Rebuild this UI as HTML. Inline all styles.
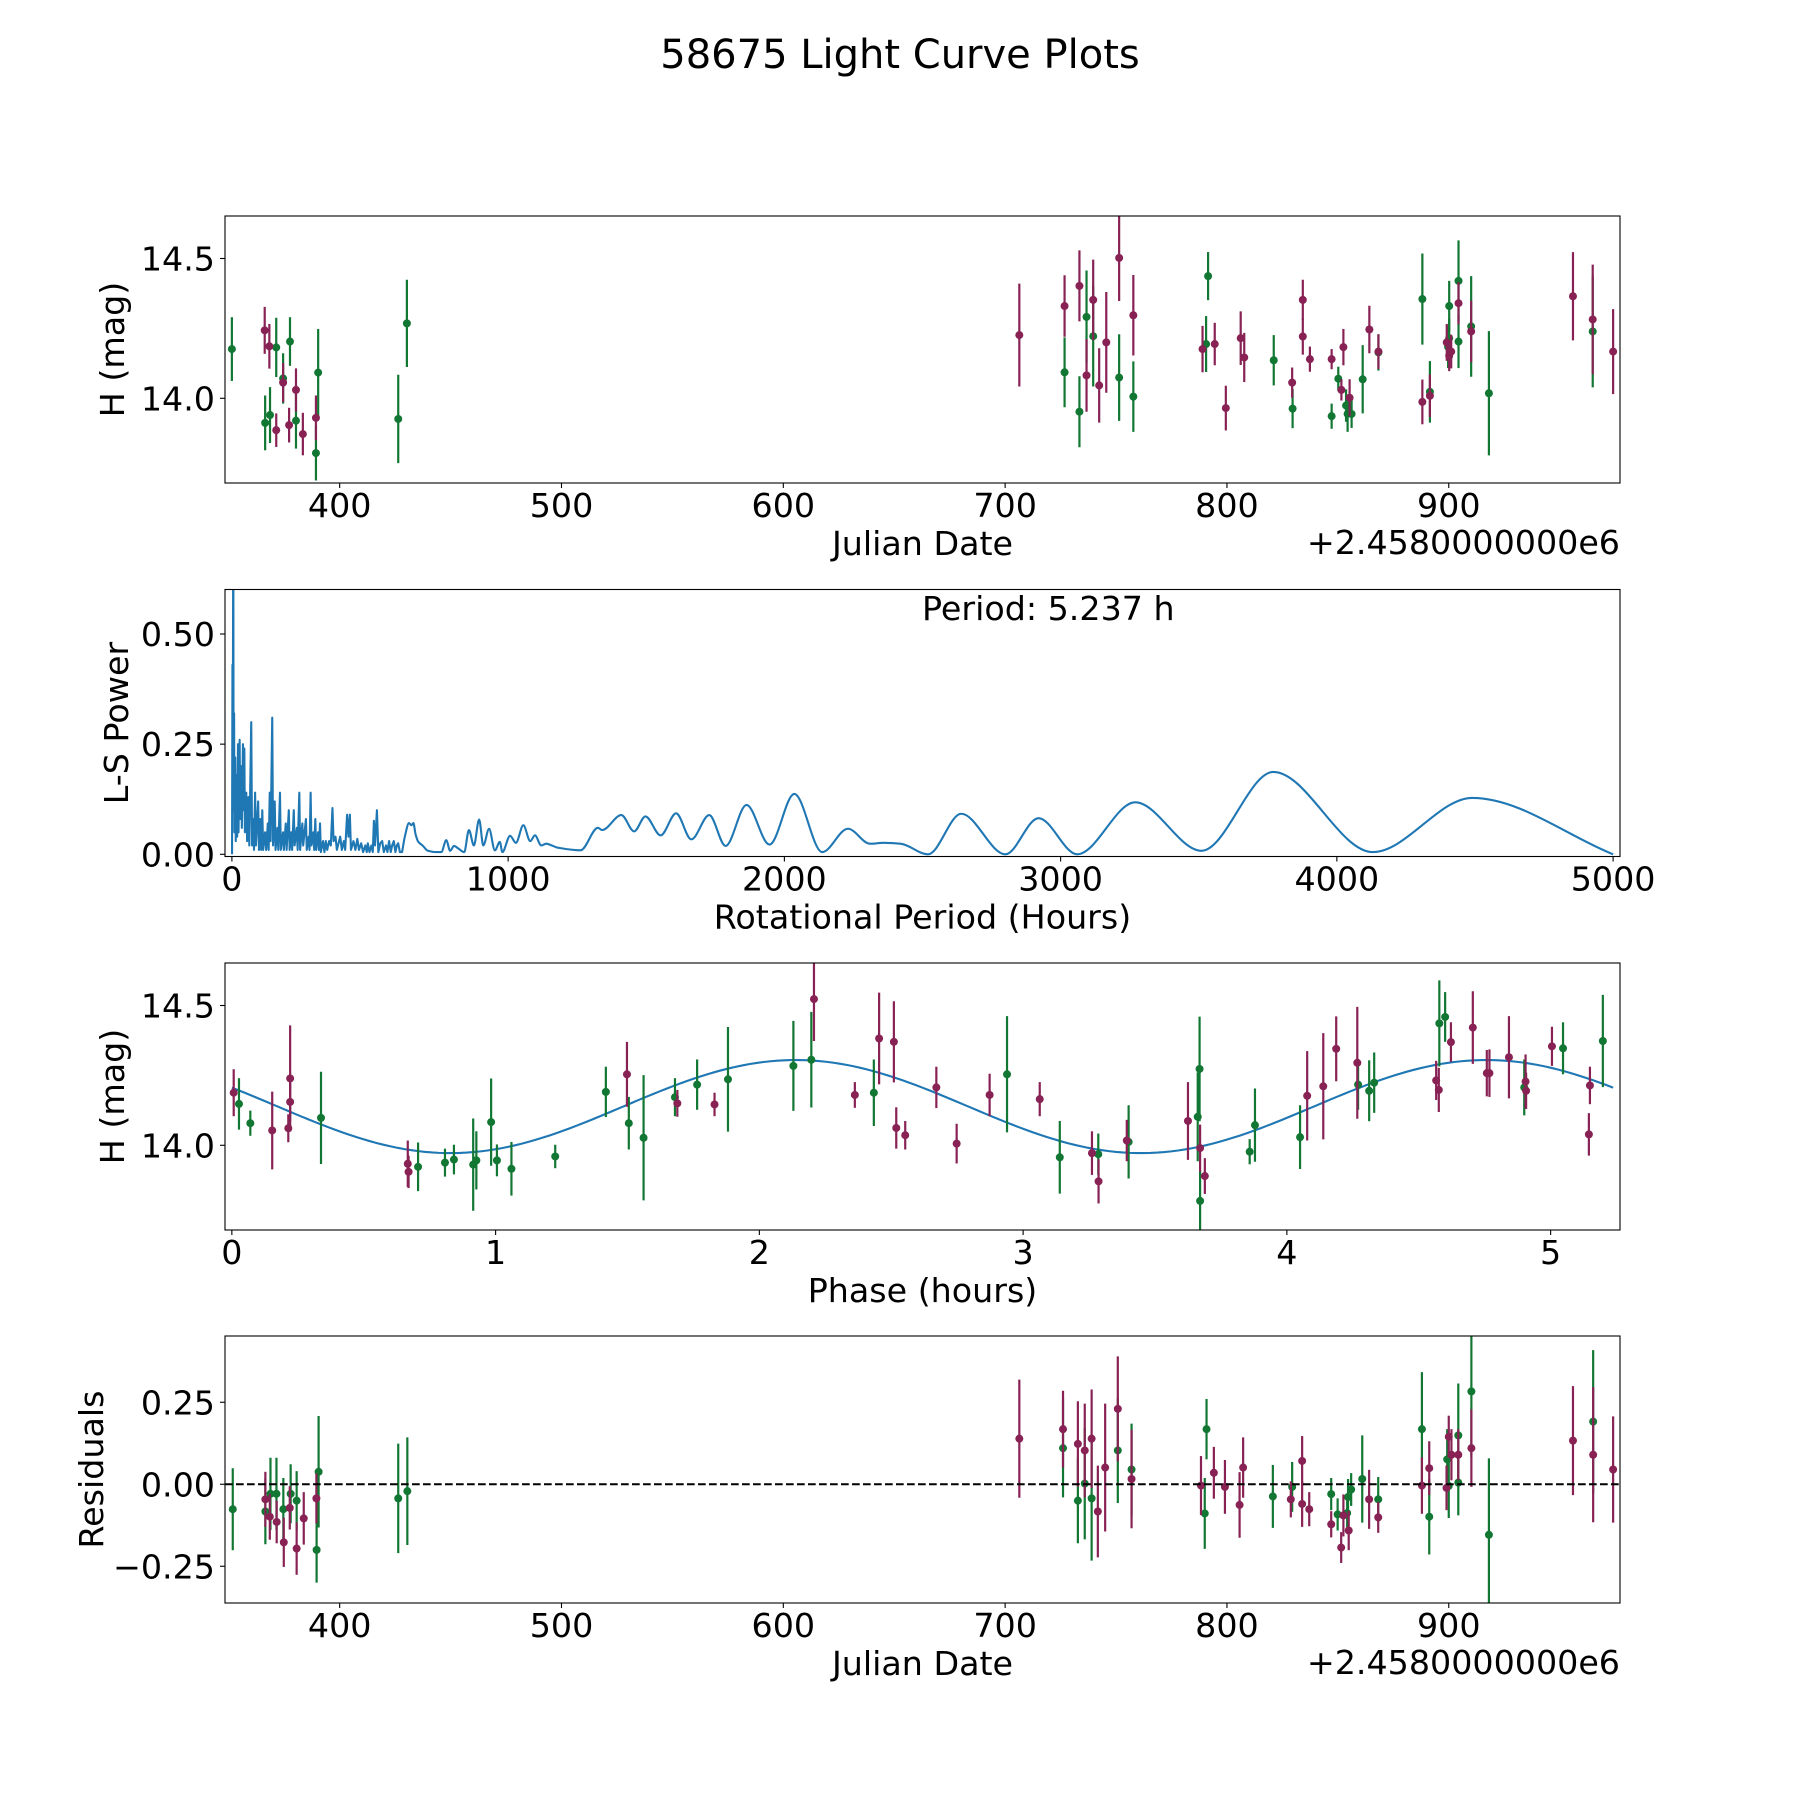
<!DOCTYPE html>
<html><head><meta charset="utf-8"><title>58675 Light Curve Plots</title>
<style>
html,body{margin:0;padding:0;background:#fff;}
svg{display:block;font-family:"DejaVu Sans","Liberation Sans",sans-serif;}
</style></head>
<body>
<svg id="fig" width="1800" height="1800" viewBox="0 0 1800 1800">
<rect x="0" y="0" width="1800" height="1800" fill="#fff"/>
<text x="900" y="68" font-size="40" text-anchor="middle">58675 Light Curve Plots</text>
<g id="p1"></g>
<g id="p2"></g>
<g id="p3"></g>
<g id="p4"></g>
</svg>
<script>
// ---------- data: panel 1 (light curve) ----------
const lcGDate=[351.4,366.4,368.6,371.4,374.5,377.6,380.3,389.3,390.3,426.4,430.3,726.8,733.5,736.7,739.7,751.4,757.8,790.6,791.5,821.1,829.6,847.2,850.2,853.7,854.4,856.2,861.2,868.3,888.1,891.5,900.2,899.7,900.2,904.4,904.4,910.1,918.1,964.9];
const lcGMag=[14.176,13.912,13.94,14.182,14.071,14.203,13.92,13.804,14.092,13.926,14.268,14.093,13.952,14.291,14.222,14.074,14.006,14.194,14.437,14.136,13.963,13.936,14.07,13.974,13.944,13.944,14.068,14.164,14.355,14.023,14.33,14.184,14.215,14.42,14.203,14.257,14.018,14.239];
const lcGErr=[0.114,0.098,0.1,0.106,0.09,0.087,0.1,0.098,0.156,0.158,0.156,0.125,0.127,0.166,0.18,0.155,0.126,0.1,0.086,0.09,0.07,0.045,0.043,0.058,0.064,0.05,0.122,0.065,0.163,0.11,0.09,0.076,0.07,0.145,0.095,0.18,0.222,0.2];
const lcRDate=[366.2,368.3,371.4,374.5,377.2,380.3,383.4,389.3,706.4,726.8,733.5,736.7,739.7,742.4,745.6,751.4,757.8,789.0,794.5,799.5,806.2,807.8,829.4,834.2,834.2,837.4,847.2,851.6,852.5,855.3,864.2,868.3,888.1,891.5,899.1,900.2,901.1,904.4,910.1,956.0,964.9,974.1];
const lcRMag=[14.243,14.186,13.886,14.056,13.904,14.03,13.872,13.93,14.226,14.33,14.402,14.082,14.352,14.046,14.2,14.502,14.297,14.176,14.194,13.965,14.215,14.146,14.056,14.352,14.221,14.14,14.14,14.03,14.183,14.002,14.246,14.167,13.987,14.009,14.2,14.152,14.167,14.34,14.239,14.365,14.282,14.167];
const lcRErr=[0.084,0.08,0.06,0.07,0.062,0.077,0.076,0.08,0.184,0.11,0.127,0.13,0.144,0.133,0.18,0.154,0.144,0.083,0.076,0.08,0.096,0.088,0.054,0.072,0.065,0.045,0.036,0.038,0.065,0.066,0.085,0.062,0.08,0.076,0.066,0.055,0.06,0.076,0.11,0.158,0.196,0.152];
// ---------- data: panel 2 (periodogram) ----------
const lsPeriod=[0.5,2,3,4.5,5.237,6,8,9,12,14,17,19,22,24,28,30,34,36,40,42,45,47,52,55,60,63,70,73,78,80,84,87,95,98,103,106,110,113,120,124,130,133,137,140,146,149,155,158,165,168,174,177,185,188,195,198,206,209,215,218,224,227,235,238,244,247,255,258,268,271,278,281,285,288,295,298,302,305,312,315,319,322,330,335,340,345,352,358,364,368,375,380,388,392,398,405,410,417,422,427,431,440,447,454,460,468,475,483,488,492,498,505,510,514,518,525,530,537,544,550,558,563,569,575,580,586,592,597,602,608];
const lsPower=[0.0,0.43,0.1,0.65,0.65,0.15,0.32,0.05,0.22,0.03,0.18,0.04,0.25,0.05,0.26,0.08,0.2,0.06,0.25,0.1,0.24,0.05,0.14,0.03,0.13,0.02,0.30,0.02,0.08,0.01,0.14,0.02,0.12,0.01,0.08,0.01,0.1,0.01,0.05,0.01,0.07,0.01,0.14,0.03,0.31,0.02,0.12,0.01,0.06,0.01,0.14,0.01,0.05,0.01,0.07,0.01,0.1,0.01,0.05,0.01,0.1,0.02,0.06,0.01,0.14,0.01,0.07,0.02,0.08,0.01,0.04,0.01,0.14,0.02,0.05,0.01,0.08,0.01,0.05,0.01,0.07,0.005,0.03,0.005,0.03,0.01,0.03,0.02,0.105,0.03,0.04,0.01,0.03,0.04,0.01,0.03,0.01,0.09,0.04,0.09,0.01,0.03,0.01,0.035,0.01,0.025,0.005,0.02,0.005,0.025,0.005,0.02,0.005,0.076,0.02,0.1,0.005,0.025,0.03,0.005,0.02,0.005,0.03,0.005,0.02,0.03,0.005,0.02,0.025,0.005];
const lsSmoothPeriod=[616,627,641,650,657,665,675,690,710,737,758,776,790,804,820,841,858,876,895,910,931,952,970,979,1007,1028,1055,1080,1097,1120,1138,1150,1180,1262,1325,1340,1410,1456,1497,1552,1608,1663,1728,1787,1863,1946,2036,2137,2230,2310,2360,2420,2520,2640,2800,2920,3060,3270,3510,3770,4130,4490,5000];
const lsSmoothPower=[0.005,0.043,0.071,0.066,0.071,0.045,0.028,0.02,0.008,0.005,0.005,0.032,0.008,0.019,0.013,0.005,0.055,0.02,0.079,0.02,0.058,0.009,0.028,0.005,0.042,0.026,0.066,0.03,0.043,0.02,0.024,0.022,0.015,0.009,0.06,0.055,0.089,0.052,0.086,0.043,0.093,0.034,0.089,0.019,0.112,0.022,0.137,0.005,0.058,0.024,0.026,0.024,0.0,0.092,0.0,0.082,0.0,0.118,0.008,0.187,0.005,0.128,0.0];
const periodLabel="Period: 5.237 h";
// ---------- data: panel 3 (phase folded) ----------
const phGPhase=[0.027,0.07,0.338,0.706,0.808,0.842,0.915,0.927,0.983,1.005,1.06,1.226,1.418,1.505,1.561,1.68,1.764,1.881,2.129,2.197,2.434,2.939,3.139,3.285,3.4,3.662,3.669,3.671,3.859,3.879,4.05,4.27,4.312,4.331,4.578,4.6,4.9,5.047,5.198];
const phGMag=[14.148,14.079,14.098,13.923,13.938,13.949,13.931,13.946,14.083,13.946,13.916,13.96,14.191,14.079,14.027,14.172,14.217,14.236,14.284,14.306,14.188,14.254,13.957,13.968,14.012,14.102,14.273,13.801,13.977,14.072,14.029,14.217,14.195,14.224,14.436,14.459,14.207,14.347,14.373];
const phGErr=[0.092,0.045,0.165,0.087,0.05,0.053,0.165,0.104,0.156,0.057,0.096,0.042,0.09,0.094,0.224,0.068,0.09,0.187,0.161,0.171,0.119,0.208,0.13,0.074,0.131,0.159,0.187,0.107,0.045,0.131,0.114,0.09,0.109,0.108,0.154,0.089,0.1,0.093,0.165];
const phRPhase=[0.007,0.153,0.214,0.221,0.221,0.667,0.67,1.498,1.689,1.83,2.207,2.362,2.454,2.51,2.519,2.553,2.671,2.748,2.873,3.063,3.261,3.286,3.393,3.625,3.671,3.689,4.077,4.138,4.187,4.267,4.566,4.576,4.622,4.705,4.758,4.768,4.842,4.905,4.907,5.005,5.149,5.145];
const phRMag=[14.188,14.053,14.061,14.239,14.155,13.934,13.905,14.254,14.15,14.146,14.523,14.18,14.382,14.37,14.062,14.036,14.207,14.006,14.18,14.165,13.972,13.871,14.017,14.087,13.99,13.89,14.177,14.211,14.345,14.295,14.232,14.198,14.369,14.421,14.258,14.258,14.315,14.228,14.195,14.354,14.214,14.039];
const phRErr=[0.084,0.139,0.05,0.19,0.07,0.083,0.058,0.116,0.048,0.042,0.15,0.046,0.164,0.145,0.074,0.051,0.074,0.071,0.076,0.061,0.078,0.079,0.074,0.139,0.084,0.064,0.16,0.19,0.116,0.2,0.07,0.079,0.071,0.13,0.083,0.085,0.147,0.097,0.065,0.07,0.067,0.076];
// fit parameters of the sinusoidal model (mean, amplitude, phase of max, model period)
const fitMean=[14.1385];
const fitAmp=[0.1665];
const fitPeak=[2.138];
const fitPeriod=[2.6185];
const fitRange=[0,5.237];
// ---------- data: panel 4 (residuals) ----------
const reGDate=[351.8,366.5,368.8,371.5,374.6,377.9,380.6,389.6,390.5,426.4,430.5,726.1,732.8,735.9,739.0,750.8,757.0,790.0,790.8,820.7,829.4,847.0,849.9,854.2,854.6,856.0,861.0,868.2,887.9,891.2,899.3,900.0,904.3,904.3,910.2,918.1,965.1];
const reGRes=[-0.076,-0.083,-0.029,-0.029,-0.076,-0.029,-0.05,-0.2,0.038,-0.043,-0.021,0.11,-0.05,0.002,-0.043,0.103,0.045,-0.089,0.168,-0.037,-0.008,-0.03,-0.092,-0.088,-0.039,-0.016,0.016,-0.046,0.168,-0.099,0.076,-0.005,0.149,0.005,0.283,-0.154,0.191];
const reGErr=[0.125,0.1,0.11,0.11,0.095,0.09,0.09,0.1,0.17,0.167,0.164,0.15,0.13,0.17,0.19,0.16,0.14,0.108,0.092,0.096,0.076,0.049,0.049,0.06,0.055,0.05,0.133,0.068,0.174,0.115,0.092,0.098,0.158,0.1,0.2,0.233,0.218];
const reRDate=[366.5,368.5,371.6,374.8,377.5,380.6,383.8,389.5,706.4,726.1,732.8,735.9,739.0,741.8,745.1,750.8,757.0,788.3,794.1,799.1,805.7,807.3,828.8,833.9,833.9,837.1,847.0,851.5,852.5,854.9,864.1,868.2,887.9,891.2,899.0,900.0,901.2,904.3,910.2,956.0,965.1,974.1];
const reRRes=[-0.046,-0.099,-0.115,-0.177,-0.072,-0.196,-0.104,-0.043,0.139,0.168,0.123,0.103,0.139,-0.083,0.051,0.23,0.016,-0.004,0.035,-0.008,-0.063,0.051,-0.046,0.071,-0.06,-0.076,-0.122,-0.193,-0.095,-0.141,-0.046,-0.101,-0.004,0.049,-0.011,0.145,0.09,0.09,0.11,0.133,0.09,0.045];
const reRErr=[0.084,0.07,0.065,0.075,0.066,0.08,0.08,0.076,0.18,0.117,0.13,0.143,0.15,0.14,0.195,0.16,0.15,0.09,0.079,0.082,0.1,0.092,0.055,0.076,0.07,0.052,0.04,0.047,0.064,0.06,0.09,0.047,0.086,0.082,0.068,0.064,0.078,0.078,0.118,0.166,0.206,0.162];
// ---------- ticks ----------
const dateTicks=[400,500,600,700,800,900];
const magTicks=[14.0,14.5];
const magTickLabels=["14.0","14.5"];
const periodTicks=[0,1000,2000,3000,4000,5000];
const powerTicks=[0,0.25,0.5];
const powerTickLabels=["0.00","0.25","0.50"];
const phaseTicks=[0,1,2,3,4,5];
const resTicks=[-0.25,0,0.25];
const resTickLabels=["\u22120.25","0.00","0.25"];

const GREEN="#117733", MAROON="#882255", BLUE="#1f77b4";
const PH=267;
const svg=document.getElementById('fig');
const SNS=svg.namespaceURI;
function el(tag,parent){const e=document.createElementNS(SNS,tag);parent.appendChild(e);return e;}

function makeAxes(gid,y0,xlim,ylim){
  const g=document.getElementById(gid);
  const ax={g:g,x0:225,y0:y0,w:1395,h:PH,xlim:xlim,ylim:ylim};
  ax.sx=v=>ax.x0+(v-xlim[0])/(xlim[1]-xlim[0])*ax.w;
  ax.sy=v=>ax.y0+ax.h-(v-ylim[0])/(ylim[1]-ylim[0])*ax.h;
  const cp=el('clipPath',g);cp.setAttribute('id','clip-'+gid);
  
  
  const cr=el('rect',cp);cr.setAttribute('x',ax.x0);cr.setAttribute('y',ax.y0);cr.setAttribute('width',ax.w);cr.setAttribute('height',ax.h);
  
  
  const pg=el('g',g);pg.setAttribute('clip-path','url(#clip-'+gid+')');
  
  
  ax.pg=pg;
  return ax;
}
function frame(ax){
  const r=el('rect',ax.g);r.setAttribute('x',ax.x0);r.setAttribute('y',ax.y0);r.setAttribute('width',ax.w);r.setAttribute('height',ax.h);
  r.setAttribute('fill','none');r.setAttribute('stroke','#000');r.setAttribute('stroke-width','1.1');
  
  
}
function xTicks(ax,vals,labels){
  const yb=ax.y0+ax.h;
  vals.forEach((v,i)=>{
    const x=ax.sx(v);
    const t=el('line',ax.g);t.setAttribute('x1',x);t.setAttribute('x2',x);t.setAttribute('y1',yb);t.setAttribute('y2',yb+5);
    t.setAttribute('stroke','#000');t.setAttribute('stroke-width','1.1');
    
    
    const tx=el('text',ax.g);tx.setAttribute('x',x);tx.setAttribute('y',yb+34);tx.setAttribute('font-size','33.3');tx.setAttribute('text-anchor','middle');
    tx.textContent=labels?labels[i]:String(v);
    
    
  });
}
function yTicks(ax,vals,labels){
  vals.forEach((v,i)=>{
    const y=ax.sy(v);
    const t=el('line',ax.g);t.setAttribute('x1',ax.x0-5);t.setAttribute('x2',ax.x0);t.setAttribute('y1',y);t.setAttribute('y2',y);
    t.setAttribute('stroke','#000');t.setAttribute('stroke-width','1.1');
    
    
    const tx=el('text',ax.g);tx.setAttribute('x',ax.x0-10);tx.setAttribute('y',y+12);tx.setAttribute('font-size','33.3');tx.setAttribute('text-anchor','end');
    tx.textContent=labels[i];
    
    
  });
}
function xLabel(ax,txt,name){
  const t=el('text',ax.g);t.setAttribute('x',ax.x0+ax.w/2);t.setAttribute('y',ax.y0+ax.h+72);t.setAttribute('font-size','33.3');t.setAttribute('text-anchor','middle');
  t.textContent=txt;
  
  
}
function yLabel(ax,txt,bx,name){
  const cy=ax.y0+ax.h/2;
  const t=el('text',ax.g);t.setAttribute('x',bx);t.setAttribute('y',cy);t.setAttribute('font-size','33.3');t.setAttribute('text-anchor','middle');
  t.setAttribute('transform','rotate(-90 '+bx+' '+cy+')');
  t.textContent=txt;
  
  
}
function offsetText(ax){
  const t=el('text',ax.g);t.setAttribute('x',ax.x0+ax.w);t.setAttribute('y',ax.y0+ax.h+71);t.setAttribute('font-size','33.3');t.setAttribute('text-anchor','end');
  t.textContent='+2.4580000000e6';
  
  
}
function errPoints(ax,xs,ys,es,color,name){
  xs.forEach((xv,i)=>{
    const x=ax.sx(xv),y=ax.sy(ys[i]);
    const l=el('line',ax.pg);l.setAttribute('x1',x);l.setAttribute('x2',x);l.setAttribute('y1',ax.sy(ys[i]+es[i]));l.setAttribute('y2',ax.sy(ys[i]-es[i]));
    l.setAttribute('stroke',color);l.setAttribute('stroke-width','2.2');
    
    
    const c=el('circle',ax.pg);c.setAttribute('cx',x);c.setAttribute('cy',y);c.setAttribute('r','4');c.setAttribute('fill',color);
    
    
  });
}
function monoPath(px,py){
  const n=px.length;const d=[],m=[];
  for(let i=0;i<n-1;i++)d.push((py[i+1]-py[i])/(px[i+1]-px[i]));
  for(let i=0;i<n;i++){
    if(i===0)m.push(d[0]);else if(i===n-1)m.push(d[n-2]);
    else if(d[i-1]*d[i]<=0)m.push(0);
    else m.push(3*(d[i-1]+d[i])/ (2*(d[i-1]/d[i]+d[i]/d[i-1])+2) );
  }
  let s='';
  for(let i=0;i<n-1;i++){
    const h=px[i+1]-px[i];
    s+=' C'+(px[i]+h/3)+','+(py[i]+m[i]*h/3)+' '+(px[i+1]-h/3)+','+(py[i+1]-m[i+1]*h/3)+' '+px[i+1]+','+py[i+1];
  }
  return s;
}

// Panel 1
const a1=makeAxes('p1',216,[348.3,977.2],[13.697,14.652]);
errPoints(a1,lcGDate,lcGMag,lcGErr,GREEN,'green-band');
errPoints(a1,lcRDate,lcRMag,lcRErr,MAROON,'red-band');
frame(a1);xTicks(a1,dateTicks);yTicks(a1,magTicks,magTickLabels);
xLabel(a1,'Julian Date','x-axis-title');yLabel(a1,'H (mag)',124,'y-axis-title');offsetText(a1);

// Panel 2
const a2=makeAxes('p2',589.5,[-25,5025],[-0.005,0.601]);
{
  let d='M'+a2.sx(lsPeriod[0])+','+a2.sy(lsPower[0]);
  for(let i=1;i<lsPeriod.length;i++)d+=' L'+a2.sx(lsPeriod[i])+','+a2.sy(lsPower[i]);
  d+=' L'+a2.sx(lsSmoothPeriod[0])+','+a2.sy(lsSmoothPower[0]);
  d+=monoPath(lsSmoothPeriod.map(a2.sx),lsSmoothPower.map(a2.sy));
  const p=el('path',a2.pg);p.setAttribute('d',d);p.setAttribute('fill','none');p.setAttribute('stroke',BLUE);p.setAttribute('stroke-width','2.1');p.setAttribute('stroke-linejoin','round');
  
  
}
frame(a2);xTicks(a2,periodTicks);yTicks(a2,powerTicks,powerTickLabels);
xLabel(a2,'Rotational Period (Hours)','x-axis-title');yLabel(a2,'L-S Power',128,'y-axis-title');
{
  const t=el('text',a2.g);t.setAttribute('x',922);t.setAttribute('y',620);t.setAttribute('font-size','33.3');
  t.textContent=periodLabel;
  
  
}

// Panel 3
const a3=makeAxes('p3',963,[-0.026,5.263],[13.697,14.652]);
{
  const N=200;let d='';
  for(let i=0;i<=N;i++){
    const ph=fitRange[0]+(fitRange[1]-fitRange[0])*i/N;
    const m=fitMean[0]+fitAmp[0]*Math.cos(2*Math.PI*(ph-fitPeak[0])/fitPeriod[0]);
    d+=(i?' L':'M')+a3.sx(ph)+','+a3.sy(m);
  }
  const p=el('path',a3.pg);p.setAttribute('d',d);p.setAttribute('fill','none');p.setAttribute('stroke',BLUE);p.setAttribute('stroke-width','2.1');
  
  
}
errPoints(a3,phGPhase,phGMag,phGErr,GREEN,'green-band');
errPoints(a3,phRPhase,phRMag,phRErr,MAROON,'red-band');
frame(a3);xTicks(a3,phaseTicks);yTicks(a3,magTicks,magTickLabels);
xLabel(a3,'Phase (hours)','x-axis-title');yLabel(a3,'H (mag)',124,'y-axis-title');

// Panel 4
const a4=makeAxes('p4',1336,[348.3,977.2],[-0.362,0.452]);
errPoints(a4,reGDate,reGRes,reGErr,GREEN,'green-band');
errPoints(a4,reRDate,reRRes,reRErr,MAROON,'red-band');
{
  const l=el('line',a4.pg);l.setAttribute('x1',a4.x0);l.setAttribute('x2',a4.x0+a4.w);l.setAttribute('y1',a4.sy(0));l.setAttribute('y2',a4.sy(0));
  l.setAttribute('stroke','#000');l.setAttribute('stroke-width','2.1');l.setAttribute('stroke-dasharray','7.7 3.3');
  
  
}
frame(a4);xTicks(a4,dateTicks);yTicks(a4,resTicks,resTickLabels);
xLabel(a4,'Julian Date','x-axis-title');yLabel(a4,'Residuals',103,'y-axis-title');offsetText(a4);
</script>
</body></html>
